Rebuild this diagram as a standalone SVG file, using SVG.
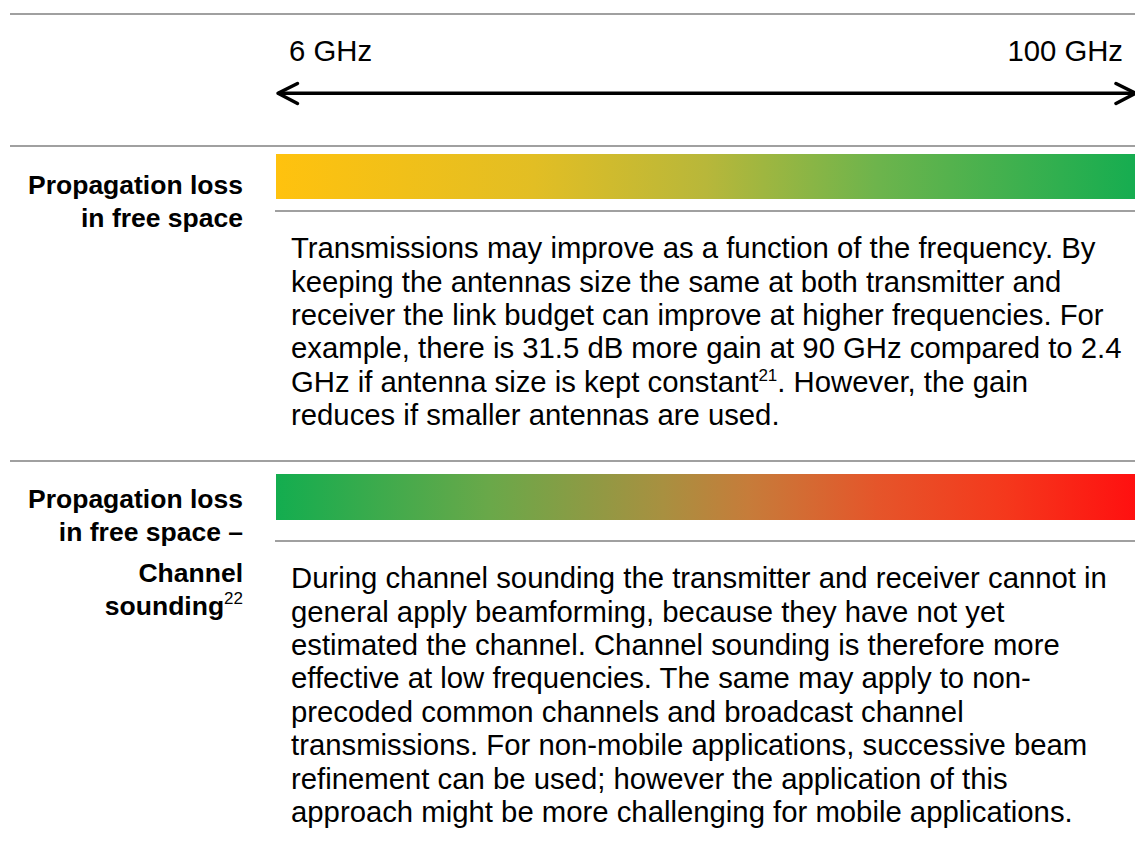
<svg xmlns="http://www.w3.org/2000/svg" width="1135" height="860" viewBox="0 0 1135 860">
  <defs>
    <linearGradient id="gradA" x1="0" y1="0" x2="1" y2="0">
      <stop offset="0" stop-color="#FFC20E"/>
      <stop offset="0.3" stop-color="#E2BE24"/>
      <stop offset="0.5" stop-color="#B8B73A"/>
      <stop offset="0.7" stop-color="#6DB44C"/>
      <stop offset="1" stop-color="#16AD50"/>
    </linearGradient>
    <linearGradient id="gradB" x1="0" y1="0" x2="1" y2="0">
      <stop offset="0" stop-color="#13AD4F"/>
      <stop offset="0.25" stop-color="#6AA849"/>
      <stop offset="0.45" stop-color="#A89040"/>
      <stop offset="0.55" stop-color="#C67C3A"/>
      <stop offset="0.7" stop-color="#E5552A"/>
      <stop offset="0.85" stop-color="#F5381C"/>
      <stop offset="1" stop-color="#FF1010"/>
    </linearGradient>
  </defs>
  <style>
    .rule { stroke: #808080; stroke-width: 1.5; fill: none; }
    .body { font-family: "Liberation Sans", Arial, sans-serif; font-size: 29.3px; fill: #000; }
    .lab { font-family: "Liberation Sans", Arial, sans-serif; font-size: 26.5px; font-weight: bold; fill: #000; text-anchor: end; }
    .sup { font-size: 17px; }
    .arrow { stroke: #000; stroke-width: 3.5; fill: none; stroke-linecap: round; stroke-linejoin: round; }
  </style>
  <rect width="1135" height="860" fill="#fff"/>

  <g id="rules">
    <line class="rule" x1="10" y1="14" x2="1135" y2="14"/>
    <line class="rule" x1="10" y1="146" x2="1135" y2="146"/>
    <line class="rule" x1="275" y1="211" x2="1135" y2="211"/>
    <line class="rule" x1="10" y1="461" x2="1135" y2="461"/>
    <line class="rule" x1="275" y1="541" x2="1135" y2="541"/>
  </g>

  <g id="scale">
    <text class="body" x="289" y="61">6 GHz</text>
    <text class="body" x="1123" y="61" text-anchor="end">100 GHz</text>
  </g>

  <g id="connectors">
    <line class="arrow" x1="279" y1="93.3" x2="1134" y2="93.3"/>
    <polyline class="arrow" points="297.5,83.5 278,93.3 297.5,103.5"/>
    <polyline class="arrow" points="1116,83.5 1135.5,93.3 1116,103.5"/>
  </g>

  <g id="row1">
    <rect x="276" y="154" width="859" height="45" fill="url(#gradA)"/>
    <text class="lab" x="243" y="194">Propagation loss</text>
    <text class="lab" x="243" y="227">in free space</text>
    <text class="body" x="291">
      <tspan x="291" y="258">Transmissions may improve as a function of the frequency. By</tspan>
      <tspan x="291" y="291.5">keeping the antennas size the same at both transmitter and</tspan>
      <tspan x="291" y="325">receiver the link budget can improve at higher frequencies. For</tspan>
      <tspan x="291" y="358">example, there is 31.5 dB more gain at 90 GHz compared to 2.4</tspan>
      <tspan x="291" y="392">GHz if antenna size is kept constant<tspan class="sup" dy="-11">21</tspan><tspan dy="11">. However, the gain</tspan></tspan>
      <tspan x="291" y="425">reduces if smaller antennas are used.</tspan>
    </text>
  </g>

  <g id="row2">
    <rect x="276" y="474" width="859" height="46" fill="url(#gradB)"/>
    <text class="lab" x="243" y="508">Propagation loss</text>
    <text class="lab" x="243" y="541">in free space –</text>
    <text class="lab" x="243" y="582">Channel</text>
    <text class="lab" x="243" y="615">sounding<tspan class="sup" font-weight="normal" dy="-11">22</tspan></text>
    <text class="body" x="291">
      <tspan x="291" y="588">During channel sounding the transmitter and receiver cannot in</tspan>
      <tspan x="291" y="621.5">general apply beamforming, because they have not yet</tspan>
      <tspan x="291" y="655">estimated the channel. Channel sounding is therefore more</tspan>
      <tspan x="291" y="688">effective at low frequencies. The same may apply to non-</tspan>
      <tspan x="291" y="721.5">precoded common channels and broadcast channel</tspan>
      <tspan x="291" y="755">transmissions. For non-mobile applications, successive beam</tspan>
      <tspan x="291" y="788.5">refinement can be used; however the application of this</tspan>
      <tspan x="291" y="822">approach might be more challenging for mobile applications.</tspan>
    </text>
  </g>
</svg>
